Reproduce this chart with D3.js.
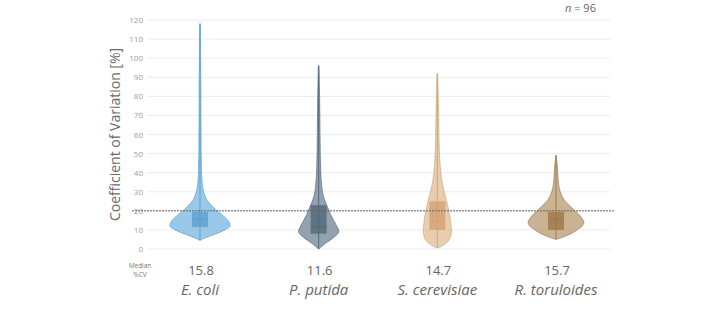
<!DOCTYPE html>
<html>
<head>
<meta charset="utf-8">
<script src="https://cdn.jsdelivr.net/npm/d3@7"></script>
<style>
  body { margin: 0; background: #fff; }
  svg { display: block; font-family: "Open Sans", sans-serif; }
</style>
</head>
<body>
<div id="chart"></div>
<script>
const species = ["E. coli", "P. putida", "S. cerevisiae", "R. toruloides"];
const medians = [15.8, 11.6, 14.7, 15.7];
const q1 = [11.5, 8, 10, 10];
const q3 = [19.5, 23, 25, 19.5];
const yTicks = [0, 10, 20, 30, 40, 50, 60, 70, 80, 90, 100, 110, 120];
const threshold = 20;
const nLabel = "96";

// violin outlines: CV levels and relative density
const ecoliCv = [4.5, 6, 8, 10, 12, 14, 16, 18, 20, 23, 26, 30, 35, 45, 60, 80, 100, 118];
const ecoliDen = [0, 0.2, 0.53, 0.83, 1, 0.97, 0.87, 0.73, 0.57, 0.37, 0.22, 0.12, 0.07, 0.045, 0.035, 0.028, 0.022, 0.01];
const putidaCv = [0, 3, 6, 9, 12, 15, 18, 21, 24, 28, 35, 45, 60, 75, 96];
const putidaDen = [0, 0.23, 0.5, 0.67, 0.6, 0.5, 0.4, 0.32, 0.24, 0.15, 0.09, 0.06, 0.045, 0.035, 0.01];
const cerevCv = [0.5, 2, 5, 9, 13, 17, 21, 25, 30, 36, 45, 55, 70, 92];
const cerevDen = [0, 0.2, 0.4, 0.47, 0.45, 0.42, 0.37, 0.31, 0.23, 0.15, 0.09, 0.06, 0.045, 0.01];
const torulCv = [5, 6.5, 8, 10, 12, 14, 16, 18, 20, 23, 26, 30, 35, 42, 49];
const torulDen = [0, 0.27, 0.5, 0.7, 0.87, 0.93, 0.87, 0.77, 0.63, 0.43, 0.26, 0.14, 0.08, 0.05, 0.01];

const profiles = [
  [ecoliCv, ecoliDen], [putidaCv, putidaDen], [cerevCv, cerevDen], [torulCv, torulDen]
];

const fills = ["#7cb9e2", "#768898", "#e2bf98", "#bb9d74"];
const strokes = ["#5aa0d0", "#56697b", "#d1a77a", "#9c7d55"];
const boxFills = ["#5d9fcf", "#536878", "#d2a373", "#9b7749"];

const W = 728, H = 324;
const svg = d3.select("#chart").append("svg")
  .attr("width", W)
  .attr("height", H);

const y = d3.scaleLinear().domain([0, 120]).range([249, 20]);
const x = d3.scalePoint().domain(species).range([200, 556]);
const w = d3.scaleLinear().domain([0, 1]).range([0, 30]);

// grid
svg.append("g")
  .selectAll("line")
  .data(yTicks)
  .join("line")
  .attr("x1", 147).attr("x2", 610)
  .attr("y1", d => y(d)).attr("y2", d => y(d))
  .attr("stroke", "#ececec")
  .attr("stroke-width", 1);

svg.append("g")
  .selectAll("text")
  .data(yTicks)
  .join("text")
  .attr("x", 143)
  .attr("y", d => y(d) + 3)
  .attr("text-anchor", "end")
  .attr("font-size", 8)
  .attr("fill", "#9a9a9a")
  .text(d => d);

// y title
svg.append("text")
  .attr("transform", `translate(120,${(y(0) + y(120)) / 2}) rotate(-90)`)
  .attr("text-anchor", "middle")
  .attr("font-size", 14)
  .attr("fill", "#6a6a6a")
  .text("Coefficient of Variation [%]");

// violins
const area = d3.area()
  .curve(d3.curveCatmullRom.alpha(0.5))
  .y(d => y(d.cv));

species.forEach((s, i) => {
  const cx = x(s);
  const pts = profiles[i][0].map((cv, j) => ({ cv, den: profiles[i][1][j] }));
  const g = svg.append("g");

  g.append("path")
    .datum(pts)
    .attr("d", area.x0(d => cx - w(d.den)).x1(d => cx + w(d.den)))
    .attr("fill", fills[i])
    .attr("fill-opacity", 0.78)
    .attr("stroke", strokes[i])
    .attr("stroke-width", 0.7);

  g.append("line")
    .attr("x1", cx).attr("x2", cx)
    .attr("y1", y(d3.min(profiles[i][0]))).attr("y2", y(d3.max(profiles[i][0])))
    .attr("stroke", strokes[i])
    .attr("stroke-width", 1);

  g.append("rect")
    .attr("x", cx - 8)
    .attr("width", 16)
    .attr("y", y(q3[i]))
    .attr("height", y(q1[i]) - y(q3[i]))
    .attr("fill", boxFills[i])
    .attr("fill-opacity", 0.8);

  g.append("line")
    .attr("x1", cx - 8).attr("x2", cx + 8)
    .attr("y1", y(medians[i])).attr("y2", y(medians[i]))
    .attr("stroke", boxFills[i])
    .attr("stroke-width", 1);
});

// 20 % threshold
svg.append("line")
  .attr("x1", 132).attr("x2", 615)
  .attr("y1", y(threshold)).attr("y2", y(threshold))
  .attr("stroke", "#666")
  .attr("stroke-width", 1)
  .attr("stroke-dasharray", "2,1");

// bottom labels
svg.append("text")
  .attr("x", 140).attr("y", 268)
  .attr("text-anchor", "middle")
  .attr("font-size", 6.5)
  .attr("fill", "#777")
  .text("Median");
svg.append("text")
  .attr("x", 140).attr("y", 277)
  .attr("text-anchor", "middle")
  .attr("font-size", 6.5)
  .attr("fill", "#777")
  .text("%CV");

svg.append("g")
  .selectAll("text")
  .data(medians)
  .join("text")
  .attr("x", (d, i) => x(species[i]) + 1)
  .attr("y", 275)
  .attr("text-anchor", "middle")
  .attr("font-size", 13)
  .attr("fill", "#666")
  .text(d => d.toFixed(1));

svg.append("g")
  .selectAll("text")
  .data(species)
  .join("text")
  .attr("x", d => x(d))
  .attr("y", 295)
  .attr("text-anchor", "middle")
  .attr("font-size", 15)
  .attr("font-style", "italic")
  .attr("fill", "#666")
  .text(d => d);

const nt = svg.append("text")
  .attr("x", 565).attr("y", 12)
  .attr("font-size", 11)
  .attr("fill", "#666");
nt.append("tspan").attr("font-style", "italic").text("n");
nt.append("tspan").text(" = " + nLabel);
</script>
</body>
</html>
